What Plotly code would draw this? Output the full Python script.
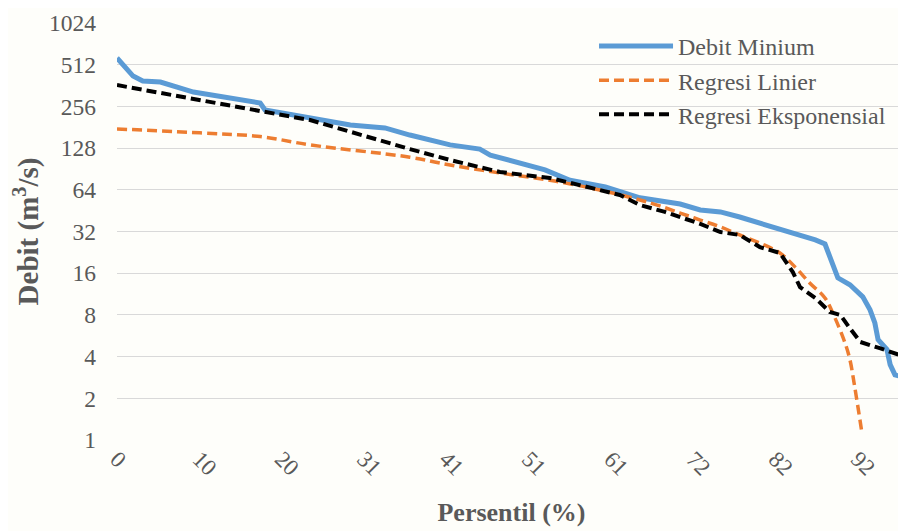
import plotly.graph_objects as go

# ---- data ----
debit_x = [0, 1.0, 2.0, 3.2, 5.4, 9.5, 14.0, 17.2, 17.8, 18.4, 24.0, 29.0, 33.3, 36.4, 41.4, 45.1,
           46.4, 50.1, 53.2, 56.3, 60.7, 65.0, 70.0, 72.5, 75.0, 77.4, 79.9, 82.4, 84.9, 86.8,
           88.0, 88.6, 89.6, 91.1, 92.7, 93.6, 94.2, 94.6, 95.7, 96.1, 96.7, 98.1]
debit_y = [572, 485, 424, 390, 384, 325, 295, 275, 271, 241, 211, 188, 179, 159, 135, 126,
           114, 100, 89, 75, 67, 56, 50.5, 45.8, 44.3, 40.7, 36.9, 33.3, 30.2, 27.8,
           26.0, 20.9, 14.8, 13.2, 10.8, 8.7, 7.0, 5.3, 4.5, 3.5, 2.95, 2.8]

lin_x = [0, 10.3, 17.8, 24.0, 36.4, 41.4, 47.6, 53.8, 60.0, 66.3, 70.0, 72.5, 75.0, 77.4,
         79.9, 82.4, 84.3, 86.1, 88.0, 89.2, 90.5, 91.1, 91.7, 92.6]
lin_y = [176, 165, 155, 135, 110, 96.7, 84.6, 75, 63.8, 51.4, 43.5, 38.7, 34.5, 30.2,
         26.4, 22.4, 17.7, 13.6, 10.6, 7.7, 5.0, 3.8, 2.41, 1.12]

exp_x = [0, 11.6, 24.0, 36.4, 41.4, 47.6, 53.8, 60.0, 62.5, 65.0, 68.1, 72.5, 75.0, 77.4,
         79.9, 82.4, 84.0, 84.9, 86.8, 88.6, 89.9, 91.1, 92.4, 94.8, 97.3, 98.1]
exp_y = [365, 276, 204, 126, 105, 86, 77.9, 63.8, 58.7, 49.7, 44.3, 36.3, 31.7, 30.2,
         24.7, 22.4, 16.3, 12.7, 10.6, 8.4, 8.0, 6.4, 5.1, 4.6, 4.1, 3.66]

x_tickvals = [0, 10.23, 20.46, 30.69, 40.92, 51.15, 61.38, 71.61, 81.84, 92.07]
x_ticktext = ["0", "10", "20", "31", "41", "51", "61", "72", "82", "92"]
y_tickvals = [1, 2, 4, 8, 16, 32, 64, 128, 256, 512, 1024]
y_ticktext = ["1", "2", "4", "8", "16", "32", "64", "128", "256", "512", "1024"]

FONT = "Liberation Serif, Times New Roman, serif"
GRAY = "#595959"

fig = go.Figure()
fig.add_trace(go.Scatter(x=debit_x, y=debit_y, mode="lines", name="Debit Minium",
                         line=dict(color="#5B9BD5", width=5)))
fig.add_trace(go.Scatter(x=lin_x, y=lin_y, mode="lines", name="Regresi Linier",
                         line=dict(color="#ED7D31", width=3.5, dash="10px,5px", shape="spline")))
fig.add_trace(go.Scatter(x=exp_x, y=exp_y, mode="lines", name="Regresi Eksponensial",
                         line=dict(color="#000000", width=4, dash="10px,5px")))

# the page body adds an 8px offset, so the figure is 8px smaller and margins shifted
fig.update_layout(
    width=898, height=523,
    margin=dict(l=109, r=0, t=15, b=91),
    paper_bgcolor="#FEFEFA", plot_bgcolor="rgba(0,0,0,0)",
    font=dict(family=FONT, size=23, color=GRAY),
    showlegend=True,
    legend=dict(x=0.6046, y=0.998, xanchor="left", yanchor="top",
                bgcolor="rgba(0,0,0,0)", font=dict(size=24, color=GRAY),
                itemwidth=74, tracegroupgap=0),
)
fig.update_xaxes(range=[0, 98.07], tickmode="array", tickvals=x_tickvals, ticktext=x_ticktext,
                 tickangle=45, showgrid=False, zeroline=False, showline=False, ticks="",
                 automargin=False, tickfont=dict(size=23, color=GRAY),
                 title=dict(text="<b>Persentil (%)</b>", standoff=23,
                            font=dict(size=26, color=GRAY)))
fig.update_yaxes(type="log", range=[0, 3.0103], tickmode="array", tickvals=y_tickvals,
                 ticktext=y_ticktext, showgrid=True, gridcolor="#D9D9D9", gridwidth=1.3,
                 zeroline=False, showline=False, ticks="", ticklabelstandoff=20,
                 automargin=False, tickfont=dict(size=23.5, color=GRAY),
                 title=dict(text="<b>Debit (m<sup>3</sup>/s)</b>", standoff=13,
                            font=dict(size=29, color=GRAY)))

fig.write_html("out.html")
